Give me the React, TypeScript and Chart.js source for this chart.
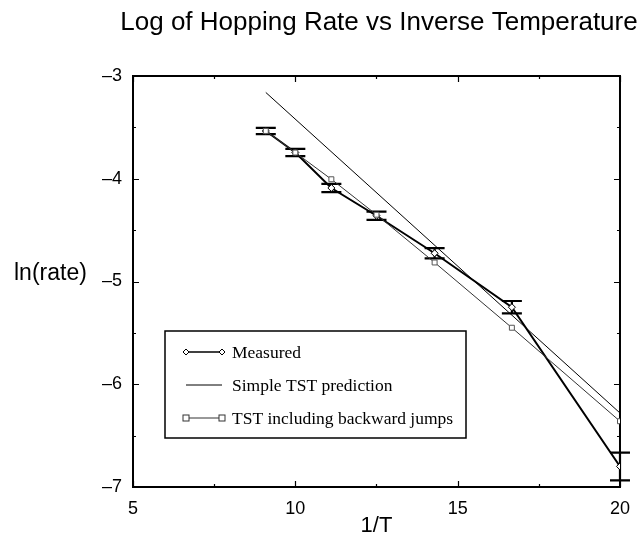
import React, { useEffect, useRef } from "react";
import { Chart, registerables } from "chart.js";

Chart.register(...registerables);

// ---- data ----
const X_VALUES = [9.09, 10, 11.11, 12.5, 14.29, 16.67, 20];
const MEASURED = [-3.535, -3.745, -4.09, -4.36, -4.725, -5.25, -6.8];
const MEASURED_ERR = [0.03, 0.035, 0.04, 0.04, 0.05, 0.06, 0.135];
const TST_BACKWARD = [-3.535, -3.745, -4.005, -4.35, -4.815, -5.45, -6.36];
const SIMPLE_TST_X = [9.09, 20];
const SIMPLE_TST_Y = [-3.16, -6.28];
const X_TICKS = [5, 10, 15, 20];
const Y_TICKS = [-7, -6, -5, -4, -3];
const LEGEND_LABELS = ["Measured", "Simple TST prediction", "TST including backward jumps"];
const TITLE = "Log of Hopping Rate vs Inverse Temperature";
const X_TITLE = "1/T";
const Y_TITLE = "ln(rate)";

const SANS = "'Liberation Sans', Arial, Helvetica, sans-serif";
const SERIF = "'Liberation Serif', 'Times New Roman', serif";

function drawDiamond(ctx: CanvasRenderingContext2D, x: number, y: number, r: number) {
  ctx.beginPath();
  ctx.moveTo(x, y - r);
  ctx.lineTo(x + r, y);
  ctx.lineTo(x, y + r);
  ctx.lineTo(x - r, y);
  ctx.closePath();
  ctx.fillStyle = "#fff";
  ctx.fill();
  ctx.stroke();
}
function drawSquare(ctx: CanvasRenderingContext2D, x: number, y: number, r: number) {
  ctx.fillStyle = "#fff";
  ctx.fillRect(x - r, y - r, 2 * r, 2 * r);
  ctx.strokeRect(x - r, y - r, 2 * r, 2 * r);
}

const decorPlugin = {
  id: "decor",
  beforeDatasetsDraw(chart: any) {
    const { ctx, chartArea: a, scales } = chart;
    const xs = scales.x;
    const ys = scales.y;
    ctx.save();
    // frame
    ctx.strokeStyle = "#000";
    ctx.lineWidth = 2;
    ctx.strokeRect(a.left, a.top, a.right - a.left, a.bottom - a.top);
    // inward ticks
    ctx.lineWidth = 1.2;
    const xt: number[] = [];
    for (let i = 0; i < X_TICKS.length; i++) {
      xt.push(X_TICKS[i]);
      if (i < X_TICKS.length - 1) xt.push((X_TICKS[i] + X_TICKS[i + 1]) / 2);
    }
    xt.forEach((v) => {
      const px = Math.round(xs.getPixelForValue(v)) + 0.5;
      const len = X_TICKS.includes(v) ? 6 : 3;
      ctx.beginPath();
      ctx.moveTo(px, a.bottom);
      ctx.lineTo(px, a.bottom - len);
      ctx.moveTo(px, a.top);
      ctx.lineTo(px, a.top + len);
      ctx.stroke();
    });
    const yt: number[] = [];
    for (let i = 0; i < Y_TICKS.length; i++) {
      yt.push(Y_TICKS[i]);
      if (i < Y_TICKS.length - 1) yt.push((Y_TICKS[i] + Y_TICKS[i + 1]) / 2);
    }
    yt.forEach((v) => {
      const py = Math.round(ys.getPixelForValue(v)) + 0.5;
      const len = Y_TICKS.includes(v) ? 6 : 3;
      ctx.beginPath();
      ctx.moveTo(a.left, py);
      ctx.lineTo(a.left + len, py);
      ctx.moveTo(a.right, py);
      ctx.lineTo(a.right - len, py);
      ctx.stroke();
    });
    // error bars
    ctx.lineWidth = 2.2;
    X_VALUES.forEach((xv, i) => {
      const px = xs.getPixelForValue(xv);
      const y1 = ys.getPixelForValue(MEASURED[i] + MEASURED_ERR[i]);
      const y2 = ys.getPixelForValue(MEASURED[i] - MEASURED_ERR[i]);
      ctx.beginPath();
      ctx.moveTo(px, y1);
      ctx.lineTo(px, y2);
      ctx.moveTo(px - 10, y1);
      ctx.lineTo(px + 10, y1);
      ctx.moveTo(px - 10, y2);
      ctx.lineTo(px + 10, y2);
      ctx.stroke();
    });
    ctx.restore();
  },
  afterDraw(chart: any) {
    const { ctx, chartArea: a } = chart;
    ctx.save();
    ctx.fillStyle = "#000";
    // title
    ctx.font = `26px ${SANS}`;
    ctx.textAlign = "center";
    ctx.textBaseline = "middle";
    ctx.fillText(TITLE, 379, 23);
    // axis titles
    ctx.font = `22px ${SANS}`;
    ctx.fillText(X_TITLE, (a.left + a.right) / 2, 526);
    ctx.textAlign = "left";
    ctx.font = `23px ${SANS}`;
    ctx.fillText(Y_TITLE, 14, 274);
    // legend
    const lx = 165, ly = 331, lw = 301, lh = 107;
    ctx.fillStyle = "#fff";
    ctx.fillRect(lx, ly, lw, lh);
    ctx.strokeStyle = "#000";
    ctx.lineWidth = 1.5;
    ctx.strokeRect(lx, ly, lw, lh);
    const rows = [352, 385, 418];
    const x1 = 186, x2 = 222;
    ctx.font = `17.5px ${SERIF}`;
    ctx.textBaseline = "middle";
    LEGEND_LABELS.forEach((lab, i) => {
      const y = rows[i];
      ctx.strokeStyle = i === 2 ? "#333" : "#000";
      ctx.lineWidth = i === 0 ? 1.6 : 1;
      ctx.beginPath();
      ctx.moveTo(x1, y);
      ctx.lineTo(x2, y);
      ctx.stroke();
      ctx.lineWidth = 1;
      if (i === 0) {
        drawDiamond(ctx, x1, y, 3);
        drawDiamond(ctx, x2, y, 3);
      } else if (i === 2) {
        drawSquare(ctx, x1, y, 3);
        drawSquare(ctx, x2, y, 3);
      }
      ctx.fillStyle = "#000";
      ctx.fillText(lab, 232, y + 1);
    });
    ctx.restore();
  },
};

export default function App() {
  const ref = useRef<HTMLCanvasElement | null>(null);
  useEffect(() => {
    if (!ref.current) return;
    const chart = new Chart(ref.current, {
      type: "line",
      data: {
        datasets: [
          {
            label: LEGEND_LABELS[1],
            data: SIMPLE_TST_X.map((x, i) => ({ x, y: SIMPLE_TST_Y[i] })),
            borderColor: "#000",
            borderWidth: 1,
            pointRadius: 0,
          },
          {
            label: LEGEND_LABELS[2],
            data: X_VALUES.map((x, i) => ({ x, y: TST_BACKWARD[i] })),
            borderColor: "#333",
            borderWidth: 1,
            pointStyle: "rect",
            pointRadius: 3.5,
            pointBackgroundColor: "#fff",
            pointBorderColor: "#555",
            pointBorderWidth: 1,
          },
          {
            label: LEGEND_LABELS[0],
            data: X_VALUES.map((x, i) => ({ x, y: MEASURED[i] })),
            borderColor: "#000",
            borderWidth: 2,
            pointStyle: "rectRot",
            pointRadius: 3.5,
            pointBackgroundColor: "#fff",
            pointBorderColor: "#000",
            pointBorderWidth: 1,
          },
        ],
      },
      options: {
        responsive: false,
        animation: false,
        layout: { padding: { left: 0, right: 19, top: 76, bottom: 0 } },
        plugins: { legend: { display: false }, title: { display: false }, tooltip: { enabled: false } },
        scales: {
          x: {
            type: "linear",
            min: 5,
            max: 20,
            afterFit: (s: any) => { s.height = 536 - 487; },
            afterBuildTicks: (s: any) => { s.ticks = X_TICKS.map((v) => ({ value: v })); },
            grid: { display: false, drawTicks: false },
            border: { display: false },
            ticks: { color: "#000", font: { family: SANS, size: 18 }, padding: 11, maxRotation: 0 },
          },
          y: {
            type: "linear",
            min: -7,
            max: -3,
            afterFit: (s: any) => { s.width = 133; },
            afterBuildTicks: (s: any) => { s.ticks = Y_TICKS.map((v) => ({ value: v })); },
            grid: { display: false, drawTicks: false },
            border: { display: false },
            ticks: {
              color: "#000",
              font: { family: SANS, size: 18 },
              padding: 11,
              callback: (v: any) => String(v).replace("-", "\u2013"),
            },
          },
        },
      },
      plugins: [decorPlugin],
    });
    return () => chart.destroy();
  }, []);
  return (
    <div style={{ position: "fixed", left: 0, top: 0, width: 641, height: 536, background: "#fff" }}>
      <canvas ref={ref} width={641} height={536} />
    </div>
  );
}
